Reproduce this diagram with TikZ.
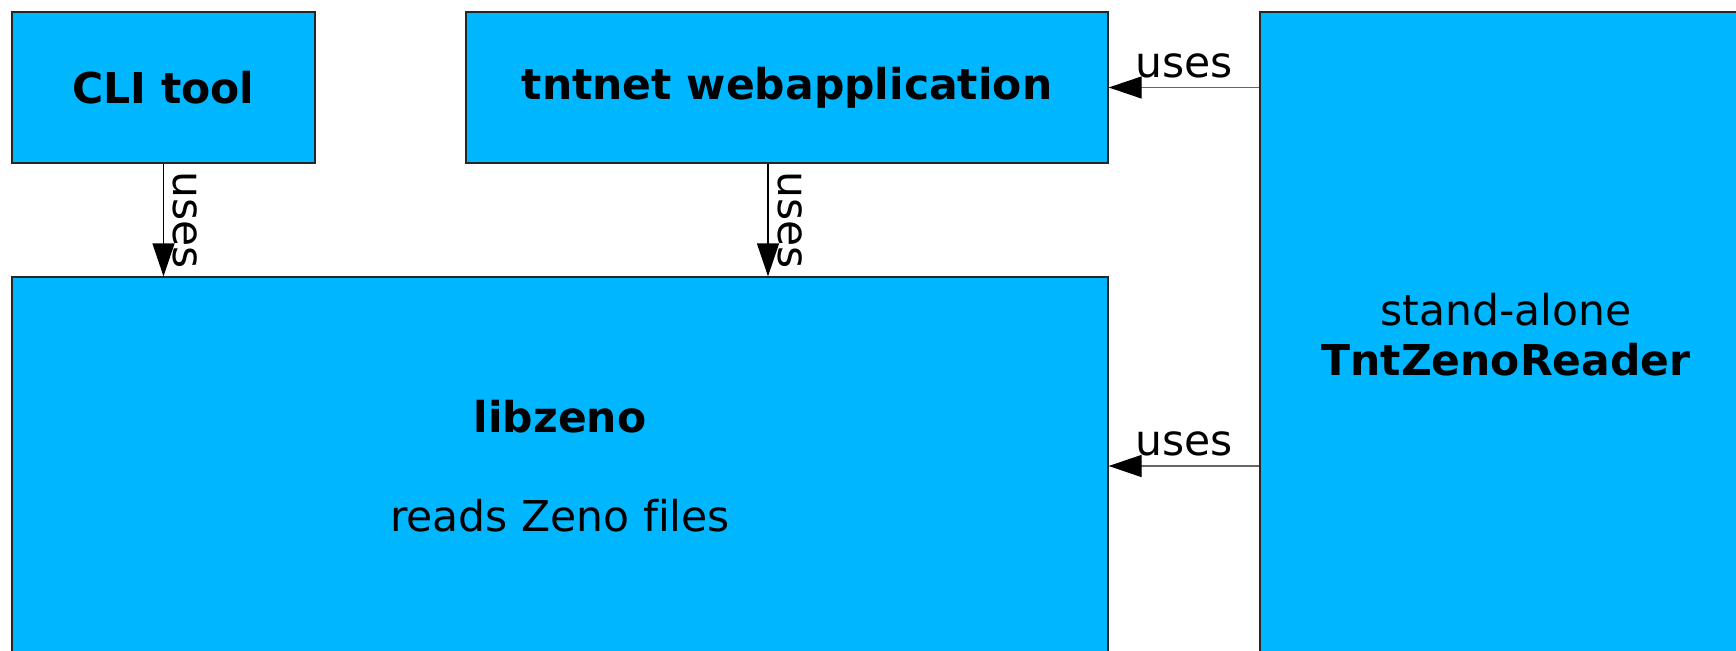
\documentclass[tikz,border=0pt]{standalone}
\usepackage{fontspec}
\setmainfont[Ligatures=NoCommon]{DejaVu Sans}
\usetikzlibrary{arrows.meta}
\definecolor{boxblue}{RGB}{0,183,255}
\begin{document}
\begin{tikzpicture}[x=1pt,y=-1pt,
  box/.style={draw=black!85, line width=1.3pt, fill=boxblue, inner sep=0pt, align=center, font=\fontsize{42.5}{50}\selectfont},
  conn/.style={line width=1.3pt, -{Triangle[length=33pt,width=22pt,color=black]}},
  lbl/.style={font=\fontsize{42.5}{50}\selectfont, inner sep=9pt}]
\useasboundingbox (0,0) rectangle (1736,650);
\clip (0,0) rectangle (1736,650);
\node[box, minimum width=303pt, minimum height=151pt] (cli) at (163.5,87.5) {\textbf{CLI tool}};
\node[box, minimum width=642pt, minimum height=151pt] (web) at (787,87.5) {\textbf{tntnet webapplication}};
\node[box, minimum width=1096pt, minimum height=378pt] (lib) at (560,466) {\textbf{libzeno}\\[49pt]reads Zeno files};
\node[box, minimum width=492pt, minimum height=646pt] (rdr) at (1506,335) {stand-alone\\\textbf{TntZenoReader}};
\draw[conn] (cli.south) -- (cli.south |- lib.north)
  node[lbl, midway, rotate=-90, anchor=south] {uses};
\draw[conn] ([xshift=-19pt]web.south) -- ([xshift=-19pt]web.south |- lib.north)
  node[lbl, midway, rotate=-90, anchor=south] {uses};
\draw[conn, draw=black!60] (rdr.west |- web.east) -- (web.east)
  node[lbl, midway, anchor=south] {uses};
\draw[conn, draw=black!60] (rdr.west |- lib.east) -- (lib.east)
  node[lbl, midway, anchor=south] {uses};
\end{tikzpicture}
\end{document}
